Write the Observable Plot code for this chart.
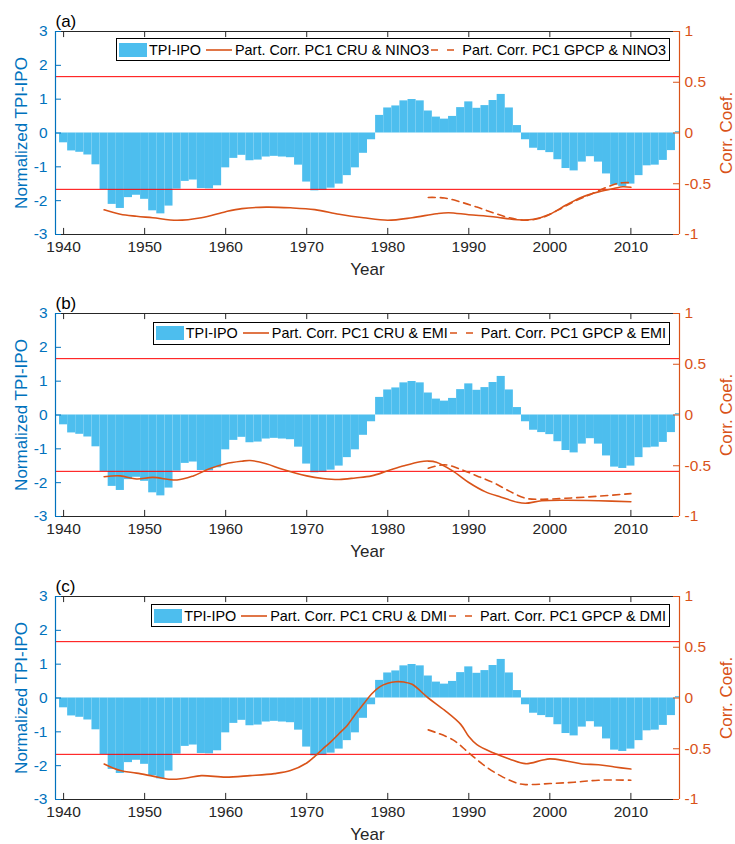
<!DOCTYPE html>
<html><head><meta charset="utf-8">
<script src="https://cdn.jsdelivr.net/npm/d3@7"></script>
<script src="https://cdn.jsdelivr.net/npm/@observablehq/plot@0.6"></script>
<style>
body{margin:0;background:#fff;}
#chart{position:relative;width:735px;height:844px;overflow:hidden;font-family:"Liberation Sans",Arial,Helvetica,sans-serif;}
.panel{position:absolute;left:0;width:735px;}
.legend{position:absolute;right:65px;height:23px;box-sizing:border-box;border:1px solid #000;background:#fff;display:flex;align-items:center;font-size:14.4px;color:#000;padding:0 3px 0 2px;white-space:nowrap;}
.legend svg{display:block;}
</style>
</head><body><div id="chart"></div>
<script>
// ---- data ----
const tpiYears = [1939,1940,1941,1942,1943,1944,1945,1946,1947,1948,1949,1950,1951,1952,1953,1954,1955,1956,1957,1958,1959,1960,1961,1962,1963,1964,1965,1966,1967,1968,1969,1970,1971,1972,1973,1974,1975,1976,1977,1978,1979,1980,1981,1982,1983,1984,1985,1986,1987,1988,1989,1990,1991,1992,1993,1994,1995,1996,1997,1998,1999,2000,2001,2002,2003,2004,2005,2006,2007,2008,2009,2010,2011,2012,2013,2014,2015,2016];
const tpiValues = [-0.03,-0.29,-0.53,-0.57,-0.65,-0.94,-1.67,-2.11,-2.23,-1.91,-1.84,-1.96,-2.30,-2.39,-2.16,-1.66,-1.43,-1.39,-1.64,-1.65,-1.56,-1.03,-0.75,-0.66,-0.82,-0.80,-0.71,-0.69,-0.71,-0.73,-0.95,-1.45,-1.71,-1.70,-1.63,-1.51,-1.26,-1.03,-0.60,-0.20,0.52,0.74,0.80,0.95,0.99,0.95,0.65,0.47,0.41,0.49,0.75,0.92,0.73,0.81,0.96,1.14,0.74,0.22,-0.20,-0.45,-0.52,-0.58,-0.79,-1.05,-1.12,-0.86,-0.70,-0.86,-1.21,-1.54,-1.58,-1.51,-1.26,-0.97,-0.95,-0.81,-0.52,0.04];

// panel (a): NINO3
const cruNinoYears = [1945,1947,1949,1951,1954,1957,1960,1962,1965,1968,1971,1974,1977,1980,1983,1986,1987.5,1990,1993,1996,1998,2000,2002,2004,2006,2008,2009,2010];
const cruNinoValues = [-0.757,-0.80,-0.82,-0.835,-0.86,-0.835,-0.775,-0.745,-0.73,-0.737,-0.755,-0.80,-0.835,-0.86,-0.835,-0.795,-0.785,-0.805,-0.825,-0.855,-0.85,-0.80,-0.71,-0.63,-0.58,-0.545,-0.53,-0.535];
const gpcpNinoYears = [1985,1987,1989,1991,1993,1995,1997,1999,2001,2003,2005,2007,2008,2009,2010];
const gpcpNinoValues = [-0.635,-0.64,-0.68,-0.73,-0.785,-0.835,-0.86,-0.835,-0.76,-0.675,-0.605,-0.535,-0.505,-0.49,-0.49];

// panel (b): EMI
const cruEmiYears = [1945,1947,1949,1951,1954,1956,1958,1960,1962,1963,1965,1967,1970,1972,1974,1976,1978,1980,1982,1984,1985,1986,1988,1990,1992,1994,1996,1997,1999,2002,2006,2010];
const cruEmiValues = [-0.608,-0.60,-0.63,-0.615,-0.64,-0.60,-0.53,-0.48,-0.455,-0.448,-0.48,-0.535,-0.60,-0.625,-0.635,-0.62,-0.60,-0.55,-0.50,-0.46,-0.454,-0.465,-0.55,-0.665,-0.755,-0.81,-0.86,-0.87,-0.845,-0.84,-0.845,-0.855];
const gpcpEmiYears = [1985,1987,1989,1991,1993,1995,1997,1999,2002,2006,2010];
const gpcpEmiValues = [-0.525,-0.49,-0.535,-0.60,-0.665,-0.75,-0.82,-0.83,-0.82,-0.80,-0.775];

// panel (c): DMI
const cruDmiYears = [1945,1947,1949,1951,1953,1955,1957,1960,1963,1966,1968,1970,1971,1972,1973,1974,1975,1976,1977,1978,1979,1980,1981,1982,1983,1985,1987,1989,1990,1991,1993,1995,1997,1999,2000,2002,2004,2006,2008,2010];
const cruDmiValues = [-0.65,-0.715,-0.74,-0.77,-0.80,-0.79,-0.765,-0.78,-0.765,-0.745,-0.715,-0.64,-0.575,-0.50,-0.43,-0.35,-0.27,-0.16,-0.06,0.04,0.11,0.145,0.16,0.157,0.135,0.0,-0.12,-0.26,-0.38,-0.46,-0.54,-0.60,-0.647,-0.614,-0.60,-0.62,-0.65,-0.657,-0.68,-0.70];
const gpcpDmiYears = [1985,1988,1990,1992,1994,1996,1997,2000,2003,2006,2010];
const gpcpDmiValues = [-0.314,-0.41,-0.54,-0.67,-0.77,-0.84,-0.853,-0.843,-0.83,-0.81,-0.81];

const sigLevels = [0.555, -0.555];
const xTicks = [1940,1950,1960,1970,1980,1990,2000,2010];
const leftTicks = [-3,-2,-1,0,1,2,3];
const rightTicks = [-1,-0.5,0,0.5,1];
const panelTags = ["(a)","(b)","(c)"];
const indexNames = ["NINO3","EMI","DMI"];

// ---- drawing ----
const BLUE="#0072BD", ORANGE="#D95319", BAR="#4DBEEE", AX="#262626", RED="#FF0000";
const FONT='"Liberation Sans",Arial,Helvetica,sans-serif';
const chart = document.getElementById("chart");
const bars = tpiYears.map((y,i)=>({year:y, v:tpiValues[i]}));
const toRows = (ys, vs) => ys.map((y,i)=>({year:y, c:vs[i]}));

function panel(i, solid, dashed, top, h, legendTop) {
  const tickY = 0.18, tickX = 0.74;
  const plot = Plot.plot({
    width:735, height:h, marginLeft:55, marginRight:56, marginTop:31, marginBottom:h-31-203,
    x:{domain:[1939,2016]}, y:{domain:[-3,3]},
    style:{fontFamily:FONT, fontSize:"15.5px", background:"transparent", color:AX, overflow:"visible"},
    marks:[
      Plot.rect(bars,{x1:d=>d.year-0.5, x2:d=>d.year+0.5, y1:0, y2:"v", fill:BAR, clip:true}),
      Plot.ruleY(sigLevels,{y:d=>d*3, stroke:RED, strokeWidth:1}),
      Plot.line(solid,{x:"year", y:d=>d.c*3, stroke:ORANGE, strokeWidth:1.6, curve:"catmull-rom"}),
      Plot.line(dashed,{x:"year", y:d=>d.c*3, stroke:ORANGE, strokeWidth:1.6, strokeDasharray:"7,5", curve:"catmull-rom"}),
      // box
      Plot.ruleY([-3,3],{stroke:AX, strokeWidth:1}),
      Plot.ruleX([1939],{stroke:BLUE, strokeWidth:1.2}),
      Plot.ruleX([2016],{stroke:ORANGE, strokeWidth:1.2}),
      // inward ticks
      Plot.ruleX(xTicks,{x:d=>d, y1:-3, y2:-3+tickY, stroke:AX}),
      Plot.ruleX(xTicks,{x:d=>d, y1:3, y2:3-tickY, stroke:AX}),
      Plot.ruleY(leftTicks,{y:d=>d, x1:1939, x2:1939+tickX, stroke:BLUE}),
      Plot.ruleY(rightTicks,{y:d=>d*3, x1:2016-tickX, x2:2016, stroke:ORANGE}),
      // axes
      Plot.axisX({anchor:"bottom", ticks:xTicks, tickSize:0, tickPadding:6, tickFormat:d=>String(d), fill:AX, fontSize:15.5, label:null}),
      Plot.axisY({anchor:"left", ticks:leftTicks, tickSize:0, tickPadding:8, tickFormat:d=>String(d), fill:BLUE, fontSize:15.5, label:null}),
      Plot.axisY({anchor:"right", ticks:rightTicks.map(d=>d*3), tickSize:0, tickPadding:5, tickFormat:d=>String(+(d/3).toFixed(2)), fill:ORANGE, fontSize:15.5, label:null}),
      // labels
      Plot.text(["Normalized TPI-IPO"],{text:d=>d, frameAnchor:"left", rotate:-90, dx:-34, textAnchor:"middle", lineAnchor:"middle", fill:BLUE, fontSize:17}),
      Plot.text(["Corr. Coef."],{text:d=>d, frameAnchor:"right", rotate:-90, dx:47, textAnchor:"middle", lineAnchor:"middle", fill:ORANGE, fontSize:17}),
      Plot.text(["Year"],{text:d=>d, frameAnchor:"bottom", dy:35, textAnchor:"middle", lineAnchor:"middle", fill:AX, fontSize:17}),
      Plot.text([panelTags[i]],{text:d=>d, frameAnchor:"top-left", dy:-10, textAnchor:"start", lineAnchor:"middle", fill:"#000", fontSize:17})
    ]
  });
  const wrap = document.createElement("div");
  wrap.className = "panel";
  wrap.style.top = top + "px";
  wrap.style.height = h + "px";
  wrap.appendChild(plot);
  const name = indexNames[i];
  const lg = document.createElement("div");
  lg.className = "legend";
  lg.style.top = legendTop + "px";
  lg.innerHTML =
    `<span style="display:inline-block;width:28px;height:14px;background:${BAR}"></span>`+
    `<span style="margin-left:2px">TPI-IPO</span>`+
    `<svg width="26" height="4" style="margin-left:5px"><line x1="0" x2="26" y1="2" y2="2" stroke="${ORANGE}" stroke-width="1.6"/></svg>`+
    `<span style="margin-left:3px">Part. Corr. PC1 CRU &amp; ${name}</span>`+
    `<svg width="24" height="4" style="margin-left:2px"><line x1="0" x2="24" y1="2" y2="2" stroke="${ORANGE}" stroke-width="1.6" stroke-dasharray="7,9"/></svg>`+
    `<span style="margin-left:7px">Part. Corr. PC1 GPCP &amp; ${name}</span>`;
  wrap.appendChild(lg);
  chart.appendChild(wrap);
}

panel(0, toRows(cruNinoYears,cruNinoValues), toRows(gpcpNinoYears,gpcpNinoValues), 0, 282, 38);
panel(1, toRows(cruEmiYears,cruEmiValues), toRows(gpcpEmiYears,gpcpEmiValues), 282, 283, 39.5);
panel(2, toRows(cruDmiYears,cruDmiValues), toRows(gpcpDmiYears,gpcpDmiValues), 565, 279, 39);
</script>
</body></html>
